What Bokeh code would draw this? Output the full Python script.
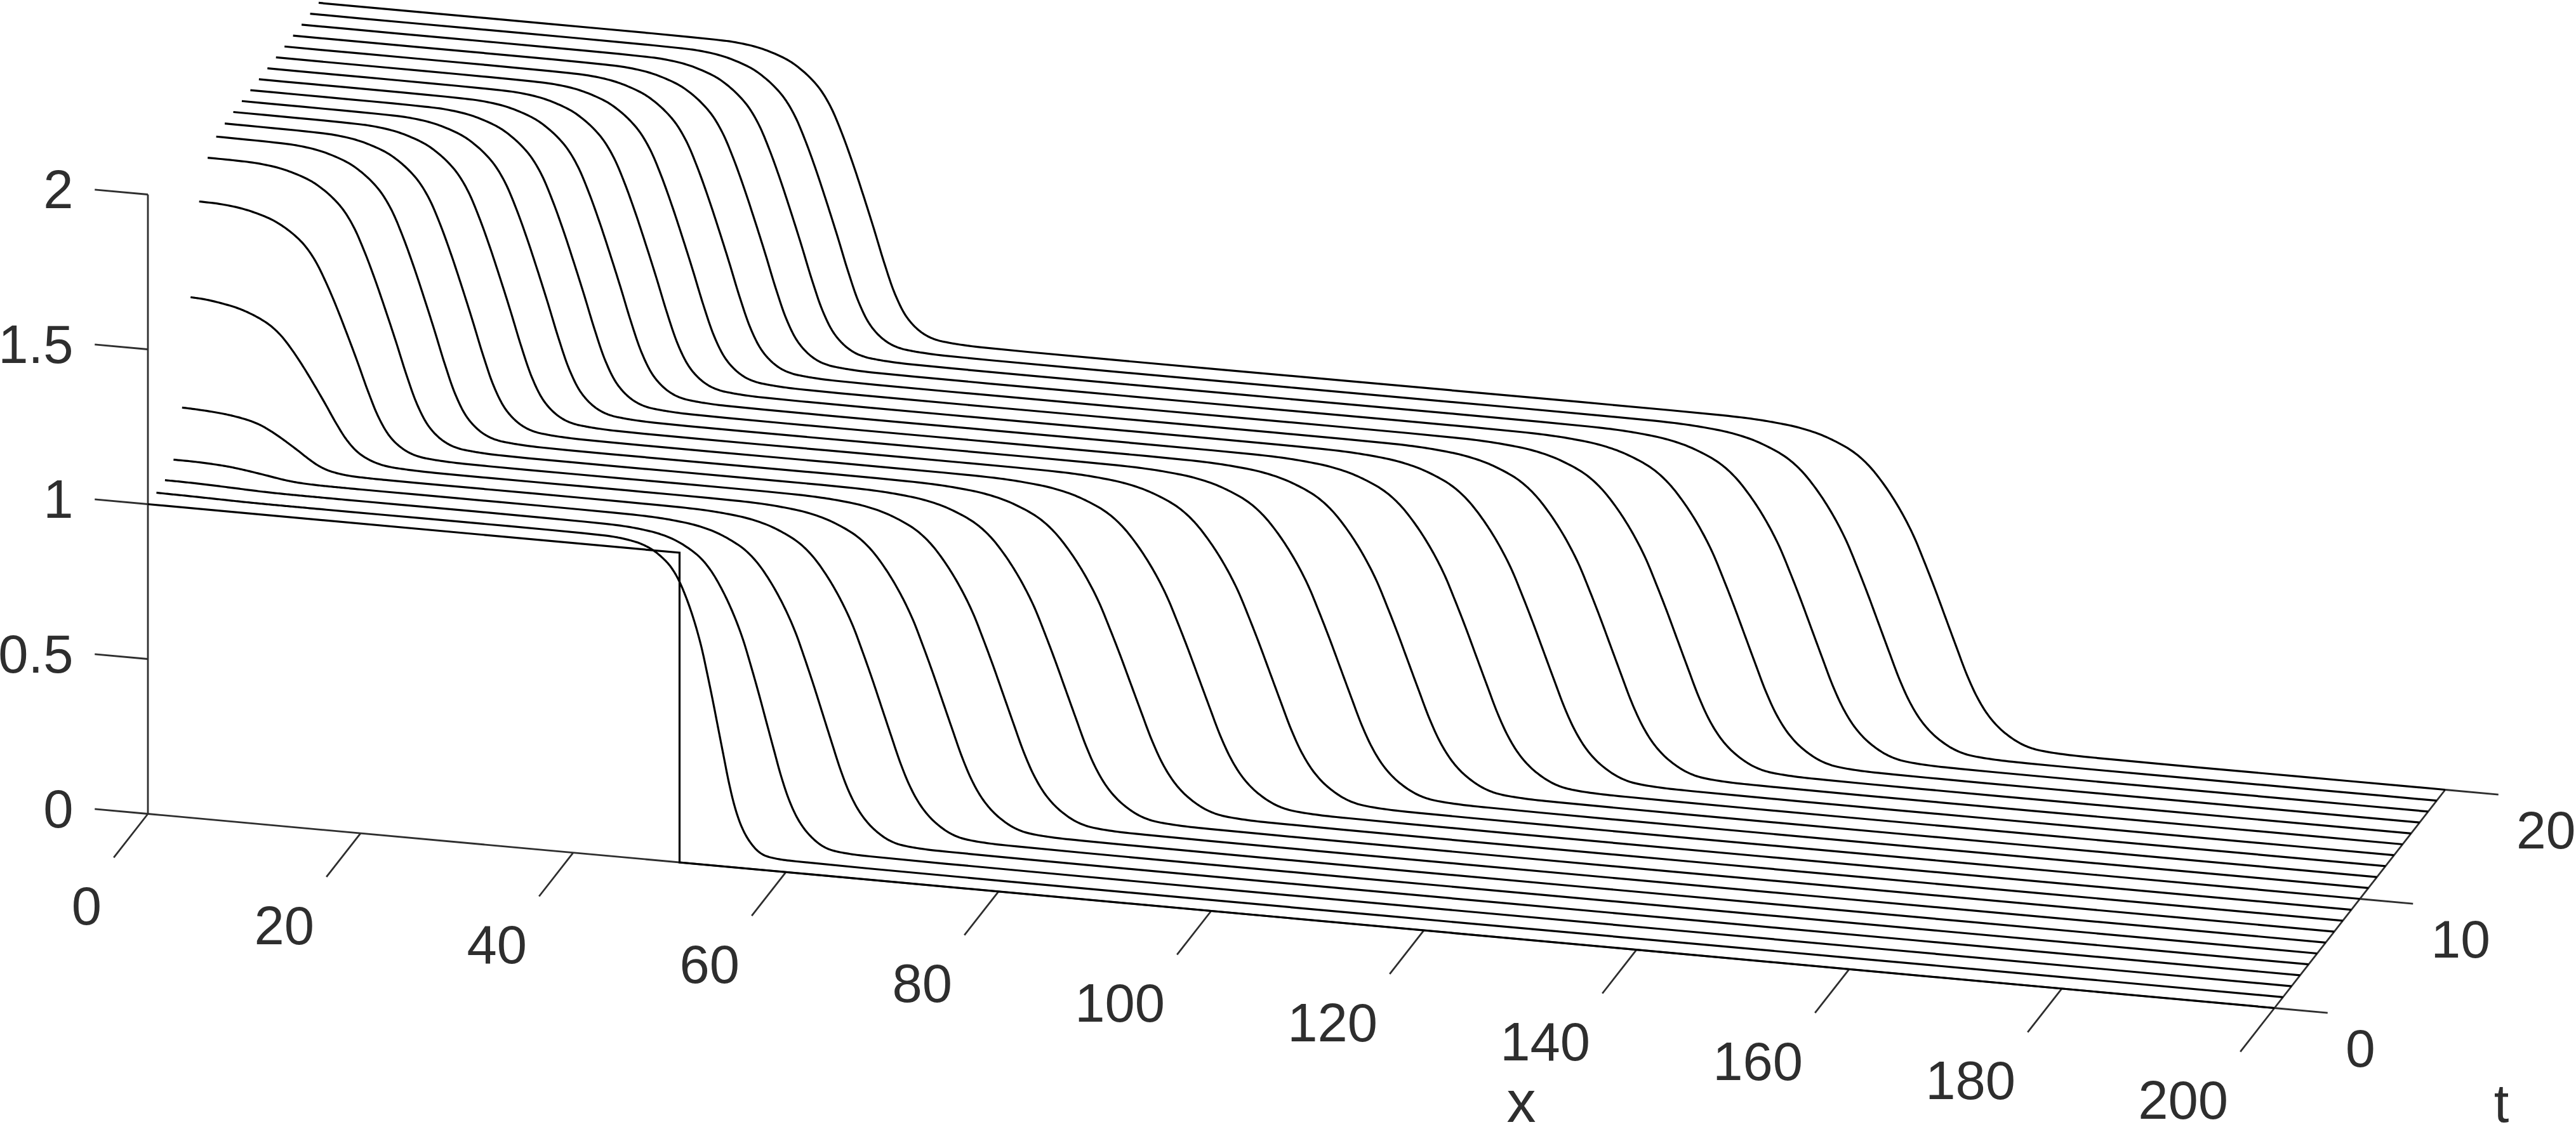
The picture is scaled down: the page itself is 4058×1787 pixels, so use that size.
from bokeh.plotting import figure
from bokeh.models import Range1d
from bokeh.core.properties import value
from bokeh.embed import file_html
from bokeh.resources import INLINE

# ---- values ----
times = list(range(1, 21))
# height of each curve at x = 0
u_at_x0 = [1.002, 1.007, 1.038, 1.171, 1.492, 1.766, 1.872, 1.905, 1.912, 1.914,
           1.914, 1.914, 1.914, 1.914, 1.914, 1.914, 1.914, 1.914, 1.914, 1.914]
# upper level that the rear front starts from
upper_top = [1.002, 1.008, 1.04, 1.172, 1.497, 1.768, 1.873, 1.905, 1.912, 1.914,
             1.914, 1.914, 1.914, 1.914, 1.914, 1.914, 1.914, 1.914, 1.914, 1.914]
# x of the mid-height of the rear front and of the leading front
upper_mid = [5.0, 6.0, 8.0, 10.1, 11.6, 13.9, 16.7, 19.5, 22.3, 25.1,
             27.8, 30.4, 33.0, 35.6, 38.2, 40.8, 43.4, 46.0, 48.6, 51.2]
lower_mid = [52.3, 55.8, 60.2, 64.9, 69.8, 74.7, 79.7, 85.0, 90.6, 96.5,
             102.3, 107.9, 113.5, 119.0, 124.5, 130.0, 135.5, 141.0, 146.5, 152.0]
# relative widths of the fronts of each curve
upper_width = [1.0, 1.0, 0.9, 0.88, 1.03, 1.0, 1.0, 1.0, 1.0, 1.0,
               1.0, 1.0, 1.0, 1.0, 1.0, 1.0, 1.0, 1.0, 1.0, 1.0]
lower_width = [0.52, 0.72, 0.85, 0.9, 0.93, 0.95, 0.97, 1.0, 1.0, 1.0,
               1.0, 1.0, 1.0, 1.0, 1.0, 1.0, 1.0, 1.0, 1.0, 1.0]
plateau = 0.997
upper_off = [-14, -12, -10, -8.5, -7, -6, -5, -4, -3, -2, -1,
             0, 1, 2, 3, 4, 5, 6, 7, 8, 9, 11]
upper_val = [0.998, 0.995, 0.985, 0.970, 0.948, 0.925, 0.895, 0.855, 0.795, 0.71, 0.61,
             0.50, 0.385, 0.265, 0.16, 0.088, 0.047, 0.023, 0.011, 0.006, 0.003, 0.0]
lower_off = [-20, -17, -15, -13, -11, -9.5, -8, -7, -6, -5, -4, -3, -2, -1,
             0, 1, 2, 3, 4, 5, 6, 7, 8, 9, 10, 12, 15]
lower_val = [0.999, 0.996, 0.991, 0.983, 0.968, 0.950, 0.926, 0.903, 0.872, 0.832, 0.785, 0.73, 0.665, 0.585,
             0.50, 0.41, 0.32, 0.232, 0.16, 0.107, 0.07, 0.044, 0.025, 0.013, 0.007, 0.002, 0.0]
# initial step, t = 0
t0_x = [0, 50, 50, 200]
t0_u = [1, 1, 0, 0]
# ticks
u_ticks = [0, 0.5, 1, 1.5, 2]
u_labels = ["0", "0.5", "1", "1.5", "2"]
x_ticks = [0, 20, 40, 60, 80, 100, 120, 140, 160, 180, 200]
x_labels = ["0", "20", "40", "60", "80", "100", "120", "140", "160", "180", "200"]
t_ticks = [0, 10, 20]
t_labels = ["0", "10", "20"]


# ---- projection of the 3D box on the page ----
def sx(x, t):
    return 232.5 + 16.75 * x + 13.45 * t


def sy(x, t, u):
    return 1282 + 1.53 * x - 17.2 * t - 488 * u


def smooth_path(px, py, n=8):
    """Draw the path through the read points as a centripetal Catmull-Rom curve."""
    pts = list(zip(px, py))
    first = (2 * pts[0][0] - pts[1][0], 2 * pts[0][1] - pts[1][1])
    last = (2 * pts[-1][0] - pts[-2][0], 2 * pts[-1][1] - pts[-2][1])
    pts = [first] + pts + [last]
    ox, oy = [pts[1][0]], [pts[1][1]]

    def lerp(a, b, ta, tb, s):
        if tb == ta:
            return a
        w = (s - ta) / (tb - ta)
        return (a[0] + (b[0] - a[0]) * w, a[1] + (b[1] - a[1]) * w)

    for k in range(1, len(pts) - 2):
        p0, p1, p2, p3 = pts[k - 1], pts[k], pts[k + 1], pts[k + 2]
        t0 = 0.0
        t1 = t0 + ((p1[0] - p0[0]) ** 2 + (p1[1] - p0[1]) ** 2) ** 0.25
        t2 = t1 + ((p2[0] - p1[0]) ** 2 + (p2[1] - p1[1]) ** 2) ** 0.25
        t3 = t2 + ((p3[0] - p2[0]) ** 2 + (p3[1] - p2[1]) ** 2) ** 0.25
        for j in range(1, n + 1):
            s = t1 + (t2 - t1) * j / n
            a1 = lerp(p0, p1, t0, t1, s)
            a2 = lerp(p1, p2, t1, t2, s)
            a3 = lerp(p2, p3, t2, t3, s)
            b1 = lerp(a1, a2, t0, t2, s)
            b2 = lerp(a2, a3, t1, t3, s)
            c = lerp(b1, b2, t1, t2, s)
            ox.append(c[0])
            oy.append(c[1])
    return ox, oy


p = figure(width=4066, height=1795, output_backend="svg", toolbar_location=None,
           x_range=Range1d(-8, 4058), y_range=Range1d(1787, -8), min_border=0,
           margin=(-8, -8, -8, -8), outline_line_color=None, background_fill_color="white")
p.xaxis.visible = False
p.yaxis.visible = False
p.xgrid.visible = False
p.ygrid.visible = False

INK = "#2e2e2e"
AXW = 2.8
CW = 3.2
FONT = value("Liberation Sans")


def axis_line(xa, ta, ua, xb, tb, ub, color=INK, width=AXW):
    p.line([sx(xa, ta), sx(xb, tb)], [sy(xa, ta, ua), sy(xb, tb, ub)],
           line_color=color, line_width=width, line_cap="butt")


# box axes
axis_line(0, 0, 0, 0, 0, 2)
axis_line(0, 0, 0, 200, 0, 0)
axis_line(200, 0, 0, 200, 20, 0)

# ticks: lengths are in data units of the box
for u in u_ticks:
    axis_line(0, 0, u, -5, 0, u)
for x in x_ticks:
    axis_line(x, 0, 0, x, -4, 0)
for t in t_ticks:
    axis_line(200, t, 0, 205, t, 0)

# curves
p.line([sx(a, 0) for a in t0_x], [sy(a, 0, b) for a, b in zip(t0_x, t0_u)],
       line_color="black", line_width=CW, line_join="miter")
for i, t in enumerate(times):
    xs = [0.0]
    us = [u_at_x0[i]]
    for o, v in zip(upper_off, upper_val):
        x = upper_mid[i] + upper_width[i] * o
        if x > 0.5:
            xs.append(x)
            us.append(plateau + (upper_top[i] - plateau) * v)
    for o, v in zip(lower_off, lower_val):
        xs.append(lower_mid[i] + lower_width[i] * o)
        us.append(plateau * v)
    xs.append(200.0)
    us.append(0.0)
    px, py = smooth_path([sx(a, t) for a in xs], [sy(a, t, b) for a, b in zip(xs, us)])
    p.line(px, py, line_color="black", line_width=CW, line_join="round")

# labels (the SVG text sits with its digit centre on the given y)
size = "85px"
p.text([115] * len(u_ticks), [sy(0, 0, u) - 8 for u in u_ticks], text=u_labels,
       text_font=FONT, text_font_size=size, text_color=INK, text_align="right", text_baseline="alphabetic")
p.text([sx(x, 0) - 73 for x in x_ticks], [sy(x, 0, 0) + 145 for x in x_ticks], text=x_labels,
       text_font=FONT, text_font_size=size, text_color=INK, text_align="right", text_baseline="alphabetic")
p.text([sx(200, t) + 112 for t in t_ticks], [sy(200, t, 0) + 63 for t in t_ticks], text=t_labels,
       text_font=FONT, text_font_size="84px", text_color=INK, text_align="left", text_baseline="alphabetic")
p.text([2396], [1735], text=["x"], text_font=FONT, text_font_size="92px", text_color=INK,
       text_align="center", text_baseline="alphabetic")
p.text([3940], [1738], text=["t"], text_font=FONT, text_font_size=size, text_color=INK,
       text_align="center", text_baseline="alphabetic")

open("out.html", "w").write(file_html(p, INLINE))
